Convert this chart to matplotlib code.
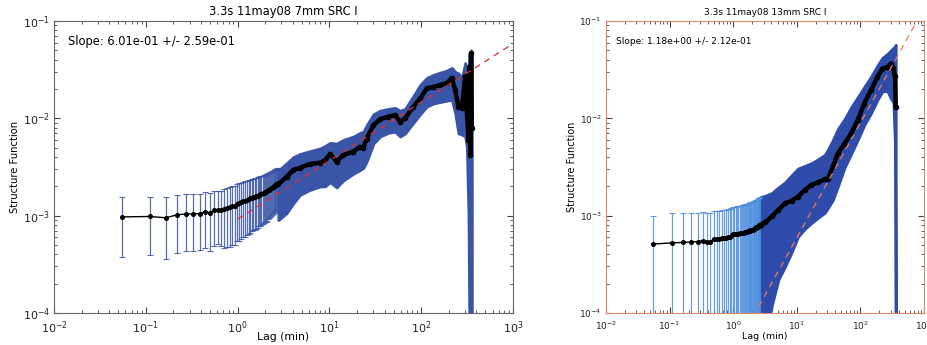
import numpy as np
import matplotlib
matplotlib.use("Agg")
import matplotlib.pyplot as plt

# ---- left panel: 7mm ----
l_title = "3.3s 11may08 7mm SRC I"
l_slope_txt = "Slope: 6.01e-01 +/- 2.59e-01"
l_fit_amp, l_fit_slope = 9.2e-4, 0.601
l_fit_range = [1.0, 1000.0]

# single lags (k * 0.055 min) with symmetric errors
l_lag_s = [0.055, 0.11, 0.165, 0.22, 0.275, 0.33, 0.385, 0.44, 0.495, 0.55,
           0.605, 0.66, 0.715, 0.77, 0.825, 0.88, 0.935, 0.99, 1.045, 1.1,
           1.155, 1.21, 1.265, 1.32, 1.375, 1.43, 1.485, 1.54, 1.595, 1.65,
           1.705, 1.76, 1.815, 1.87, 1.925, 1.98, 2.035, 2.09, 2.145, 2.2,
           2.255, 2.31, 2.365, 2.42, 2.475, 2.53, 2.585, 2.64, 2.695, 2.75]
l_val_s = [9.7e-4, 9.8e-4, 9.5e-4, 1.02e-3, 1.04e-3, 1.04e-3, 1.05e-3, 1.10e-3, 1.07e-3, 1.13e-3,
           1.15e-3, 1.14e-3, 1.17e-3, 1.20e-3, 1.22e-3, 1.25e-3, 1.27e-3, 1.33e-3, 1.35e-3, 1.38e-3,
           1.41e-3, 1.43e-3, 1.45e-3, 1.47e-3, 1.50e-3, 1.53e-3, 1.55e-3, 1.56e-3, 1.58e-3, 1.61e-3,
           1.64e-3, 1.66e-3, 1.68e-3, 1.70e-3, 1.72e-3, 1.74e-3, 1.76e-3, 1.79e-3, 1.82e-3, 1.85e-3,
           1.88e-3, 1.91e-3, 1.94e-3, 1.97e-3, 2.00e-3, 2.03e-3, 2.06e-3, 2.09e-3, 2.13e-3, 2.17e-3]
l_err_s = [5.9e-4, 5.9e-4, 5.9e-4, 6.1e-4, 6.1e-4, 6.1e-4, 6.1e-4, 6.4e-4, 6.4e-4, 6.4e-4,
           6.4e-4, 6.5e-4, 7.0e-4, 7.2e-4, 7.4e-4, 7.5e-4, 7.7e-4, 7.8e-4, 8.0e-4, 8.0e-4,
           8.1e-4, 8.2e-4, 8.2e-4, 8.3e-4, 8.3e-4, 8.4e-4, 8.4e-4, 8.5e-4, 8.5e-4, 8.6e-4,
           8.6e-4, 8.7e-4, 8.7e-4, 8.8e-4, 8.8e-4, 8.9e-4, 8.9e-4, 9.0e-4, 9.0e-4, 9.1e-4,
           9.1e-4, 9.2e-4, 9.2e-4, 9.3e-4, 9.3e-4, 9.4e-4, 9.4e-4, 9.5e-4, 9.5e-4, 9.5e-4]

# dense part, read at selected lags: value, lower and upper edge of error band
l_lag_d = [2.78, 3.42, 4.05, 4.78, 6.15, 7.91, 8.97, 10.2, 12.0, 14.2,
           18.3, 21.6, 23.5, 25.5, 30.2, 35.7, 44.0, 52.0, 59.0, 66.9,
           82.4, 97.5, 115, 136, 161, 191, 216, 235, 255, 278,
           302, 315, 328, 336, 343, 350, 357]
l_val_d = [2.1e-3, 2.5e-3, 2.95e-3, 3.1e-3, 3.4e-3, 3.5e-3, 3.7e-3, 4.3e-3, 3.6e-3, 4.2e-3,
           4.55e-3, 5.1e-3, 5.0e-3, 6.2e-3, 8.5e-3, 9.8e-3, 1.04e-2, 1.08e-2, 9.2e-3, 1.0e-2,
           1.32e-2, 1.6e-2, 2.03e-2, 2.1e-2, 2.2e-2, 2.3e-2, 2.6e-2, 1.95e-2, 1.32e-2, 1.27e-2,
           2.7e-2, 1.2e-2, 6e-3, 3.4e-2, 4.2e-3, 4.7e-2, 8e-3]
l_lo_d = [9.0e-4, 1.06e-3, 1.34e-3, 1.63e-3, 1.84e-3, 1.99e-3, 2.0e-3, 2.2e-3, 1.95e-3, 2.3e-3,
          2.7e-3, 2.94e-3, 3.1e-3, 3.6e-3, 5.5e-3, 6.5e-3, 7.1e-3, 7.3e-3, 6.5e-3, 7.0e-3,
          9.0e-3, 1.1e-2, 1.32e-2, 1.42e-2, 1.47e-2, 1.52e-2, 1.55e-2, 1.12e-2, 7.0e-3, 6.8e-3,
          6.5e-3, 5e-3, 1e-3, 5e-5, 5e-5, 5e-5, 5e-5]
l_hi_d = [2.9e-3, 3.45e-3, 4.0e-3, 4.3e-3, 4.6e-3, 4.9e-3, 5.2e-3, 5.6e-3, 5.5e-3, 6.0e-3,
          6.5e-3, 7.1e-3, 7.3e-3, 8.5e-3, 1.1e-2, 1.2e-2, 1.25e-2, 1.28e-2, 1.2e-2, 1.25e-2,
          1.7e-2, 2.2e-2, 2.6e-2, 2.8e-2, 2.95e-2, 3.1e-2, 3.3e-2, 3.0e-2, 2.9e-2, 2.6e-2,
          3.7e-2, 3.2e-2, 3.0e-2, 4.5e-2, 4.0e-2, 5.0e-2, 4.5e-2]

# ---- right panel: 13mm ----
r_title = "3.3s 11may08 13mm SRC I"
r_slope_txt = "Slope: 1.18e+00 +/- 2.12e-01"
r_fit_amp, r_fit_slope = 3.9e-5, 1.18
r_fit_range = [1.0, 1000.0]

r_lag_s = l_lag_s[:48]
r_val_s = [5.1e-4, 5.25e-4, 5.3e-4, 5.35e-4, 5.4e-4, 5.55e-4, 5.3e-4, 5.35e-4, 5.8e-4, 5.7e-4,
           5.75e-4, 5.9e-4, 5.85e-4, 5.95e-4, 6.1e-4, 6.0e-4, 6.2e-4, 6.5e-4, 6.4e-4, 6.5e-4,
           6.55e-4, 6.5e-4, 6.6e-4, 6.6e-4, 6.65e-4, 6.7e-4, 6.7e-4, 6.75e-4, 6.8e-4, 6.8e-4,
           6.9e-4, 6.95e-4, 7.0e-4, 7.05e-4, 7.1e-4, 7.15e-4, 7.2e-4, 7.25e-4, 7.3e-4, 7.4e-4,
           7.5e-4, 7.55e-4, 7.6e-4, 7.7e-4, 7.75e-4, 7.8e-4, 7.9e-4, 8.0e-4]
r_err_s = [4.9e-4, 5.3e-4, 5.3e-4, 5.3e-4, 5.3e-4, 5.3e-4, 5.4e-4, 5.4e-4, 5.4e-4, 5.5e-4,
           5.5e-4, 5.5e-4, 5.6e-4, 5.6e-4, 5.6e-4, 5.7e-4, 5.7e-4, 5.8e-4, 5.8e-4, 5.9e-4,
           5.9e-4, 6.0e-4, 6.0e-4, 6.1e-4, 6.1e-4, 6.2e-4, 6.2e-4, 6.3e-4, 6.3e-4, 6.4e-4,
           6.4e-4, 6.5e-4, 6.5e-4, 6.6e-4, 6.6e-4, 6.7e-4, 6.7e-4, 6.8e-4, 6.8e-4, 6.9e-4,
           6.9e-4, 7.0e-4, 7.0e-4, 7.1e-4, 7.2e-4, 7.3e-4, 7.4e-4, 7.5e-4]

r_lag_d = [2.7, 3.19, 4.06, 5.15, 6.55, 8.30, 10.5, 13.4, 17.0, 21.6,
           27.5, 31.0, 37.0, 44.4, 56.3, 71.6, 90.8, 115, 147, 186,
           223, 267, 301, 331, 351, 360]
r_val_d = [8.1e-4, 8.5e-4, 9.8e-4, 1.15e-3, 1.34e-3, 1.42e-3, 1.57e-3, 1.84e-3, 2.07e-3, 2.2e-3,
           2.37e-3, 2.4e-3, 3.2e-3, 4.37e-3, 5.5e-3, 7.0e-3, 9.6e-3, 1.42e-2, 1.95e-2, 2.67e-2,
           3.25e-2, 3.35e-2, 3.66e-2, 3.3e-2, 2.7e-2, 1.3e-2]
r_lo_d = [5e-5, 5e-5, 1.2e-4, 2.2e-4, 3.0e-4, 4.2e-4, 6.1e-4, 7.3e-4, 8.4e-4, 9.5e-4,
          1.07e-3, 1.2e-3, 1.45e-3, 2.0e-3, 3.1e-3, 4.3e-3, 6.0e-3, 8.5e-3, 1.13e-2, 1.55e-2,
          1.9e-2, 1.9e-2, 1.6e-2, 1.45e-2, 5e-3, 5e-5]
r_hi_d = [1.55e-3, 1.6e-3, 1.71e-3, 1.95e-3, 2.2e-3, 2.6e-3, 3.05e-3, 3.25e-3, 3.46e-3, 3.8e-3,
          4.2e-3, 4.8e-3, 6.0e-3, 7.8e-3, 9.8e-3, 1.3e-2, 1.65e-2, 2.1e-2, 2.68e-2, 3.5e-2,
          4.2e-2, 4.6e-2, 5.0e-2, 5.3e-2, 5.5e-2, 5.7e-2]


def panel(ax, title, slope_txt, lag_s, val_s, err_s, lag_d, val_d, lo_d, hi_d,
          amp, slope, frange, ecol_s, ecol, fitcol, spinecol, fs, fs_y, fs_t, fs_x, xpad):
    ax.set_xscale("log")
    ax.set_yscale("log")
    ax.fill_between(lag_d, lo_d, hi_d, facecolor=ecol, edgecolor=ecol, lw=2, zorder=2)
    ax.errorbar(lag_s, val_s, yerr=err_s, fmt="none", ecolor=ecol_s, elinewidth=0.9,
                capsize=2.5, capthick=0.8, alpha=0.85, zorder=2)
    lag_all = list(lag_s) + list(lag_d)
    val_all = list(val_s) + list(val_d)
    ax.plot(lag_all, val_all, "-", color="k", lw=1, zorder=3)
    ax.plot(lag_s, val_s, "o", color="k", ms=2.6, zorder=4)
    ax.plot(lag_d, val_d, "-o", color="k", lw=3.2, ms=3, zorder=4)
    xf = np.array(frange)
    ax.plot(xf, amp * xf ** slope, "--", color=fitcol, lw=0.9, dashes=(5, 4), zorder=5)
    ax.set_xlim(1e-2, 1e3)
    ax.set_ylim(1e-4, 1e-1)
    ax.set_title(title, fontsize=fs, pad=4)
    ax.set_xlabel("Lag (min)", fontsize=fs_x, labelpad=xpad)
    ax.set_ylabel("Structure Function", fontsize=fs_y, labelpad=2)
    ax.text(0.03, 0.93, slope_txt, transform=ax.transAxes, fontsize=fs, va="center")
    ax.tick_params(which="both", direction="in", top=True, right=True,
                   labelsize=fs_t, colors="#444444", labelcolor="#222222")
    ax.tick_params(axis="x", which="major", pad=4.5)
    ax.tick_params(axis="y", which="major", pad=3)
    ax.tick_params(which="major", length=4)
    ax.tick_params(which="minor", length=2)
    for s in ax.spines.values():
        s.set_color(spinecol)
        s.set_linewidth(0.8)


fig = plt.figure(figsize=(9.27, 3.45), dpi=100)
ax1 = fig.add_axes([0.0583, 0.093, 0.495, 0.846])
ax2 = fig.add_axes([0.6537, 0.093, 0.343, 0.846])

panel(ax1, l_title, l_slope_txt, l_lag_s, l_val_s, l_err_s, l_lag_d, l_val_d, l_lo_d, l_hi_d,
      l_fit_amp, l_fit_slope, l_fit_range, "#3a55a8", "#3a55a8", "#e03030", "#666666",
      8.3, 7.2, 8.0, 7.8, -3)
panel(ax2, r_title, r_slope_txt, r_lag_s, r_val_s, r_err_s, r_lag_d, r_val_d, r_lo_d, r_hi_d,
      r_fit_amp, r_fit_slope, r_fit_range, "#4d8ede", "#2f4cab", "#f07860", "#d88a6a",
      6.5, 7.0, 6.5, 6.8, 0)

fig.savefig("out.png", dpi=100)
